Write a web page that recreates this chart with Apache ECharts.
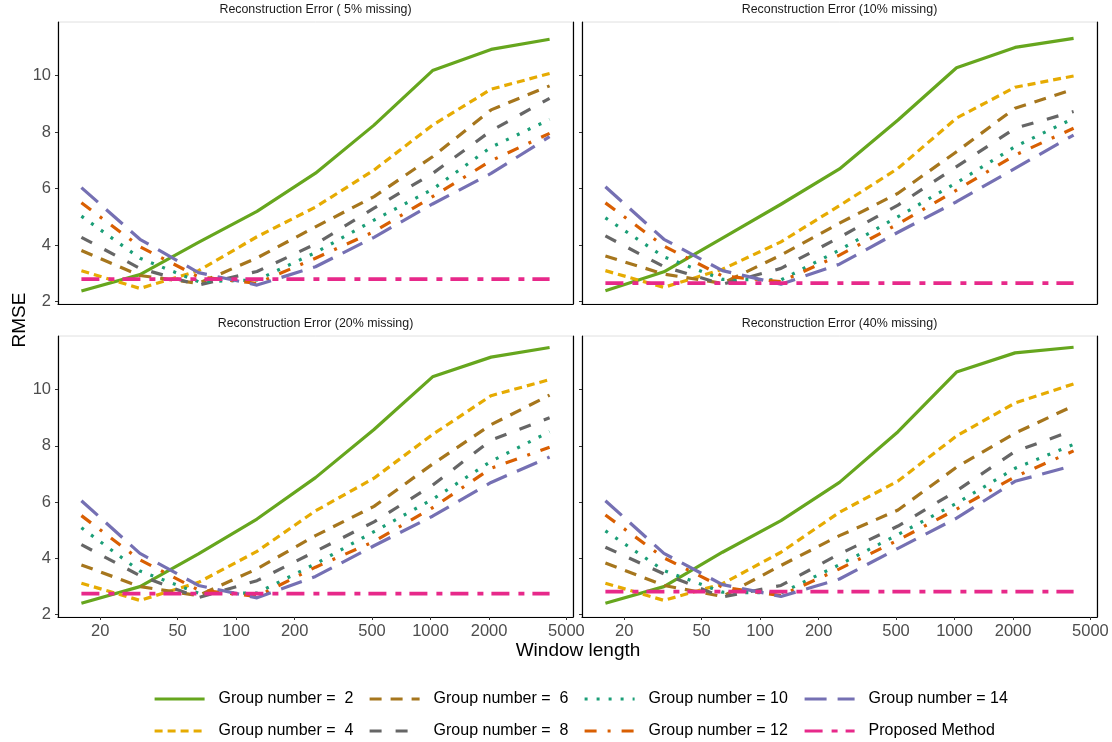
<!DOCTYPE html>
<html><head><meta charset="utf-8">
<script src="https://cdn.jsdelivr.net/npm/echarts@6/dist/echarts.min.js"></script>
<style>html,body{margin:0;padding:0;background:#fff}#c{width:1112px;height:742px}</style>
</head><body><div id="c"></div>
<script>
// ---------- data ----------
const windowLengths = [16, 32, 64, 128, 256, 512, 1024, 2048, 4096];
const xTickLabels = [20, 50, 100, 200, 500, 1000, 2000, 5000];
const yTickLabels = [2, 4, 6, 8, 10];
const panelTitles = ['Reconstruction Error ( 5% missing)', 'Reconstruction Error (10% missing)',
                     'Reconstruction Error (20% missing)', 'Reconstruction Error (40% missing)'];
const seriesNames = ['Group number =  2', 'Group number =  4', 'Group number =  6', 'Group number =  8',
                     'Group number = 10', 'Group number = 12', 'Group number = 14', 'Proposed Method'];

// 5% missing
const m05_g2  = [2.38, 2.96, 4.10, 5.20, 6.55, 8.25, 10.18, 10.93, 11.29];
const m05_g4  = [3.10, 2.47, 3.10, 4.30, 5.35, 6.66, 8.25, 9.52, 10.08];
const m05_g6  = [3.81, 2.93, 2.65, 3.55, 4.65, 5.72, 7.13, 8.79, 9.64];
const m05_g8  = [4.28, 3.18, 2.59, 3.07, 4.04, 5.31, 6.54, 8.05, 9.20];
const m05_g10 = [5.03, 3.54, 2.71, 2.77, 3.74, 4.89, 5.98, 7.47, 8.45];
const m05_g12 = [5.50, 3.95, 2.88, 2.65, 3.54, 4.48, 5.72, 6.99, 7.96];
const m05_g14 = [6.04, 4.21, 3.03, 2.59, 3.24, 4.28, 5.46, 6.54, 7.84];
const m05_pm  = [2.80, 2.80, 2.80, 2.80, 2.80, 2.80, 2.80, 2.80, 2.80];
// 10% missing
const m10_g2  = [2.39, 3.06, 4.25, 5.45, 6.70, 8.43, 10.28, 11.00, 11.32];
const m10_g4  = [3.10, 2.51, 3.15, 4.12, 5.40, 6.72, 8.50, 9.59, 9.99];
const m10_g6  = [3.62, 2.98, 2.65, 3.65, 4.78, 5.84, 7.31, 8.85, 9.52];
const m10_g8  = [4.33, 3.24, 2.62, 3.18, 4.28, 5.42, 6.78, 8.14, 8.73];
const m10_g10 = [4.97, 3.59, 2.79, 2.77, 3.83, 5.01, 6.21, 7.49, 8.49];
const m10_g12 = [5.50, 3.97, 2.91, 2.71, 3.65, 4.75, 5.95, 7.19, 8.14];
const m10_g14 = [6.07, 4.21, 3.10, 2.62, 3.33, 4.46, 5.54, 6.72, 7.90];
const m10_pm  = [2.66, 2.66, 2.66, 2.66, 2.66, 2.66, 2.66, 2.66, 2.66];
// 20% missing
const m20_g2  = [2.41, 3.00, 4.16, 5.40, 6.87, 8.58, 10.45, 11.15, 11.49];
const m20_g4  = [3.12, 2.51, 3.15, 4.25, 5.69, 6.85, 8.40, 9.78, 10.35];
const m20_g6  = [3.77, 3.00, 2.68, 3.63, 4.81, 5.85, 7.35, 8.75, 9.80];
const m20_g8  = [4.49, 3.39, 2.61, 3.21, 4.25, 5.30, 6.60, 8.20, 9.00];
const m20_g10 = [5.09, 3.55, 2.77, 2.77, 3.81, 4.95, 6.10, 7.45, 8.50];
const m20_g12 = [5.52, 3.95, 2.88, 2.65, 3.69, 4.60, 5.80, 7.20, 7.95];
const m20_g14 = [6.05, 4.18, 3.04, 2.60, 3.36, 4.45, 5.50, 6.70, 7.60];
const m20_pm  = [2.75, 2.75, 2.75, 2.75, 2.75, 2.75, 2.75, 2.75, 2.75];
// 40% missing
const m40_g2  = [2.41, 3.00, 4.22, 5.34, 6.70, 8.50, 10.62, 11.30, 11.50];
const m40_g4  = [3.12, 2.51, 3.10, 4.22, 5.64, 6.75, 8.35, 9.52, 10.20];
const m40_g6  = [3.84, 3.04, 2.65, 3.75, 4.81, 5.72, 7.24, 8.45, 9.42];
const m40_g8  = [4.40, 3.45, 2.63, 3.04, 4.16, 5.15, 6.40, 7.80, 8.55];
const m40_g10 = [4.98, 3.57, 2.80, 2.77, 3.78, 4.85, 5.96, 7.20, 8.05];
const m40_g12 = [5.54, 4.02, 2.98, 2.68, 3.63, 4.65, 5.75, 6.90, 7.82];
const m40_g14 = [6.05, 4.18, 3.07, 2.65, 3.27, 4.36, 5.43, 6.74, 7.30];
const m40_pm  = [2.82, 2.82, 2.82, 2.82, 2.82, 2.82, 2.82, 2.82, 2.82];

const panels = [
  [m05_g2, m05_g4, m05_g6, m05_g8, m05_g10, m05_g12, m05_g14, m05_pm],
  [m10_g2, m10_g4, m10_g6, m10_g8, m10_g10, m10_g12, m10_g14, m10_pm],
  [m20_g2, m20_g4, m20_g6, m20_g8, m20_g10, m20_g12, m20_g14, m20_pm],
  [m40_g2, m40_g4, m40_g6, m40_g8, m40_g10, m40_g12, m40_g14, m40_pm]
];

// ---------- style ----------
const FONT = "'Liberation Sans', Arial, sans-serif";
const colors = ['#66a61e', '#e6ab02', '#a6761d', '#666666', '#1b9e77', '#d95f02', '#7570b3', '#e7298a'];
const dashes = ['solid', [8, 5], [12, 9], [12, 14], [3, 9], [12, 11, 3, 11], [22, 11], [18, 9, 6, 8]];
const widths = [3.2, 3.2, 3.2, 3.2, 3.2, 3.2, 3.2, 3.6];

const gridPos = [
  {left: 58, top: 22, width: 515, height: 282},
  {left: 582, top: 22, width: 515, height: 282},
  {left: 58, top: 336, width: 515, height: 281},
  {left: 582, top: 336, width: 515, height: 281}
];

const grid = gridPos.map(g => Object.assign({show: true, borderColor: '#e0e0e0', borderWidth: 1, backgroundColor: '#fff'}, g));

const xAxis = gridPos.map((g, i) => ({
  type: 'log', logBase: 10, gridIndex: i, min: 12.126, max: 5404.7,
  axisLine: {show: true, lineStyle: {color: '#000', width: 1.2}},
  axisTick: {show: i >= 2, customValues: xTickLabels, length: 3, lineStyle: {color: '#333', width: 1}},
  axisLabel: {show: i >= 2, customValues: xTickLabels, fontSize: 16.5, color: '#4d4d4d', fontFamily: FONT, margin: 6,
              formatter: v => String(Math.round(v))},
  splitLine: {show: false}, minorTick: {show: false}, minorSplitLine: {show: false}
}));

const yAxis = [];
gridPos.forEach((g, i) => {
  yAxis.push({
    type: 'value', gridIndex: i, min: 1.92, max: 11.9, position: 'left',
    axisLine: {show: true, lineStyle: {color: '#000', width: 1.2}},
    axisTick: {show: true, customValues: yTickLabels, length: 3, lineStyle: {color: '#333', width: 1}},
    axisLabel: {show: i % 2 === 0, customValues: yTickLabels, fontSize: 16.5, color: '#4d4d4d', fontFamily: FONT, margin: 7},
    splitLine: {show: false}
  });
  yAxis.push({
    type: 'value', gridIndex: i, min: 1.92, max: 11.9, position: 'right',
    axisLine: {show: true, lineStyle: {color: '#000', width: 1.2}},
    axisTick: {show: false}, axisLabel: {show: false}, splitLine: {show: false}
  });
});

const series = [];
panels.forEach((pd, p) => {
  pd.forEach((vals, s) => {
    series.push({
      type: 'line', name: seriesNames[s], xAxisIndex: p, yAxisIndex: p * 2,
      data: windowLengths.map((w, k) => [w, vals[k]]),
      symbol: 'none', smooth: false, silent: true, animation: false,
      color: colors[s],
      lineStyle: {color: colors[s], width: widths[s], type: dashes[s], cap: 'butt', join: 'round'},
      z: 2 + s
    });
  });
});

const legendCols = [[0, 1], [2, 3], [4, 5], [6, 7]];
const legendLeft = [153, 368, 583, 803];
const legend = legendCols.map((c, i) => ({
  orient: 'vertical', left: legendLeft[i], top: 690, height: 52, padding: 0,
  itemWidth: 50, itemHeight: 18, itemGap: 14,
  itemStyle: {opacity: 0},
  lineStyle: {width: 3.2},
  data: c.map(k => seriesNames[k]),
  textStyle: {fontSize: 16, color: '#000', fontFamily: FONT, lineHeight: 18, padding: [0, 0, 0, 9]},
  selectedMode: false
}));

const graphic = [];
gridPos.forEach((g, i) => {
  graphic.push({type: 'text', x: g.left + g.width / 2, y: i < 2 ? 10 : 324,
    style: {text: panelTitles[i], font: '12.4px ' + FONT, fill: '#1a1a1a', textAlign: 'center', textVerticalAlign: 'middle'}});
});
graphic.push({type: 'text', x: 578, y: 651,
  style: {text: 'Window length', font: '19px ' + FONT, fill: '#000', textAlign: 'center', textVerticalAlign: 'middle'}});
graphic.push({type: 'text', x: 20, y: 320, rotation: Math.PI / 2,
  style: {text: 'RMSE', font: '19px ' + FONT, fill: '#000', textAlign: 'center', textVerticalAlign: 'middle'}});

const chart = echarts.init(document.getElementById('c'), null, {renderer: 'canvas'});
chart.setOption({
  animation: false, backgroundColor: '#fff',
  grid, xAxis, yAxis, series, legend, graphic
});
</script></body></html>
